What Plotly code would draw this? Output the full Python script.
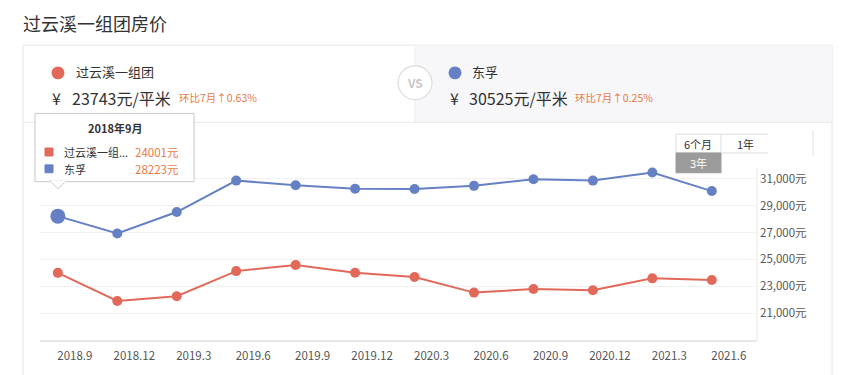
import plotly.graph_objects as go

# ---------------- data ----------------
months = ["2018.9", "2018.12", "2019.3", "2019.6", "2019.9", "2019.12",
          "2020.3", "2020.6", "2020.9", "2020.12", "2021.3", "2021.6"]
guoyunxi = [24001, 21910, 22260, 24130, 24580, 24010,
            23690, 22530, 22800, 22700, 23590, 23470]
dongfu = [28223, 26930, 28530, 30870, 30530, 30260,
          30250, 30480, 30970, 30870, 31470, 30090]
y_ticks = [21000, 23000, 25000, 27000, 29000, 31000]
name_a, name_b = "过云溪一组团", "东孚"
price_a, price_b = 23743, 30525
mom_a, mom_b = "0.63%", "0.25%"
tip_month = "2018年9月"

# ---------------- layout helpers ----------------
# page body has an 8px margin; the figure is sized so it ends at the window edge
OFF = 8
W_FIG, H_FIG = 844 - OFF, 375 - OFF
L, R, T, B = 40, 757, 152, 342          # plot area in window pixels
PW, PH = R - L, B - T
FONT = "Noto Sans CJK SC, Noto Sans, sans-serif"
RED, BLUE = "#e2695a", "#6580c4"
ORANGE = "#e8793e"


def px(x):
    return (x - L) / PW


def py(y):
    return (B - y) / PH


fig = go.Figure()
xs = list(range(len(months)))
sizes_b = [15] + [10] * (len(months) - 1)

fig.add_trace(go.Scatter(x=xs, y=dongfu, mode="lines+markers", name=name_b,
                         line=dict(color=BLUE, width=2), opacity=1,
                         marker=dict(color=BLUE, size=sizes_b, opacity=1,
                                     line=dict(width=0))))
fig.add_trace(go.Scatter(x=xs, y=guoyunxi, mode="lines+markers", name=name_a,
                         line=dict(color=RED, width=2), opacity=1,
                         marker=dict(color=RED, size=10, opacity=1,
                                     line=dict(width=0))))

shapes = []
ann = []


def rect(x0, y0, x1, y1, fill="rgba(0,0,0,0)", line="rgba(0,0,0,0)", lw=1, layer="below"):
    shapes.append(dict(type="rect", xref="paper", yref="paper",
                       x0=px(x0), x1=px(x1), y0=py(y1), y1=py(y0),
                       fillcolor=fill, line=dict(color=line, width=lw), layer=layer))


def hline(x0, x1, y, color, lw=1, layer="below"):
    shapes.append(dict(type="line", xref="paper", yref="paper",
                       x0=px(x0), x1=px(x1), y0=py(y), y1=py(y),
                       line=dict(color=color, width=lw), layer=layer))


def vline(x, y0, y1, color, lw=1, layer="below"):
    shapes.append(dict(type="line", xref="paper", yref="paper",
                       x0=px(x), x1=px(x), y0=py(y0), y1=py(y1),
                       line=dict(color=color, width=lw), layer=layer))


def circle(cx, cy, r, fill, line="rgba(0,0,0,0)", lw=1, layer="below"):
    shapes.append(dict(type="circle", xref="paper", yref="paper",
                       x0=px(cx - r), x1=px(cx + r), y0=py(cy + r), y1=py(cy - r),
                       fillcolor=fill, line=dict(color=line, width=lw), layer=layer))


def text(x, y, s, size=12, color="#333", anchor="left", bold=False):
    if bold:
        s = "<b>" + s + "</b>"
    ann.append(dict(xref="paper", yref="paper", x=px(x), y=py(y), text=s,
                    showarrow=False, xanchor=anchor, yanchor="middle",
                    font=dict(family=FONT, size=size, color=color)))


# title
text(21, 22, "过云溪一组团房价", size=18, color="#333")

# card
rect(23, 44, 832, 420, fill="#ffffff", line="#e6e6e6")
rect(415, 44, 832, 122, fill="#f7f7f9", line="rgba(0,0,0,0)")
vline(415, 44, 122, "#ececec")
hline(23, 832, 122, "#e6e6e6")
circle(415, 82, 17, "#ffffff", line="#dcdcdc", lw=1.2)
text(415, 82, "VS", size=12, color="#c8c8c8", anchor="center", bold=True)

# header left
circle(58, 72, 6.5, RED)
text(74, 71, name_a, size=13, color="#333")
text(50, 97, "¥", size=16, color="#333")
text(70, 97, f"{price_a}元/平米", size=16, color="#333")
text(177, 97, f"环比7月↑{mom_a}", size=10.5, color=ORANGE)

# header right
circle(455, 72, 6.5, BLUE)
text(470, 71, name_b, size=13, color="#333")
text(448, 97, "¥", size=16, color="#333")
text(467, 97, f"{price_b}元/平米", size=16, color="#333")
text(573, 97, f"环比7月↑{mom_b}", size=10.5, color=ORANGE)

# range buttons
rect(676, 134, 721, 153, fill="#ffffff", line="#dddddd")
hline(721, 768, 134, "#dddddd")
hline(721, 768, 153, "#dddddd")
text(698, 143.5, "6个月", size=11, color="#333", anchor="center")
text(745, 143.5, "1年", size=11, color="#333", anchor="center")
rect(676, 153, 721, 173, fill="#9b9b9b", line="#9b9b9b")
text(698, 163, "3年", size=11, color="#ffffff", anchor="center")
vline(813, 130, 156, "#e0e0e0")

# plot right border
vline(757, 168, 342, "#e8e8e8")

# tooltip
shapes.append(dict(type="path", xref="paper", yref="paper",
                   path=f"M {px(35)} {py(182)} L {px(194)} {py(182)} L {px(194)} {py(113)} "
                        f"L {px(35)} {py(113)} Z",
                   fillcolor="#ffffff", line=dict(color="#c8c8c8", width=1), layer="above"))
shapes.append(dict(type="path", xref="paper", yref="paper",
                   path=f"M {px(50)} {py(181.5)} L {px(58)} {py(189)} L {px(66)} {py(181.5)} Z",
                   fillcolor="#ffffff", line=dict(color="#c8c8c8", width=1), layer="above"))
hline(50.8, 65.2, 182, "#ffffff", lw=1.6, layer="above")
text(115, 128, tip_month, size=11, color="#333", anchor="center", bold=True)
rect(45, 148, 53, 156, fill=RED, line=RED, layer="above")
rect(45, 165, 53, 173, fill=BLUE, line=BLUE, layer="above")
text(62, 152, name_a[:5] + "...", size=11, color="#333")
text(62, 169, name_b, size=11, color="#333")
text(133, 152, f"{guoyunxi[0]}元", size=11.5, color=ORANGE)
text(133, 169, f"{dongfu[0]}元", size=11.5, color=ORANGE)

fig.update_layout(
    width=W_FIG, height=H_FIG,
    margin=dict(l=L - OFF, r=844 - R, t=T - OFF, b=375 - B, pad=0),
    paper_bgcolor="#ffffff", plot_bgcolor="rgba(0,0,0,0)",
    showlegend=False, hovermode=False,
    shapes=shapes, annotations=ann,
    font=dict(family=FONT, color="#666"),
    xaxis=dict(range=[-0.3, 11.76], tickvals=xs, ticktext=months,
               showgrid=False, zeroline=False, showline=True,
               linecolor="#e6e6e6", linewidth=1.5, ticks="",
               ticklabelshift=17, ticklabelstandoff=4,
               tickfont=dict(family=FONT, size=11.5, color="#555")),
    yaxis=dict(range=[19000, 33000], tickvals=y_ticks,
               ticktext=[f"{v:,}元" for v in y_ticks],
               side="right", showgrid=True, gridcolor="#f0f0f0", gridwidth=1,
               zeroline=False, showline=False, ticks="",
               ticklabelstandoff=2,
               tickfont=dict(family=FONT, size=11.5, color="#555")),
)

fig.write_html("out.html")
